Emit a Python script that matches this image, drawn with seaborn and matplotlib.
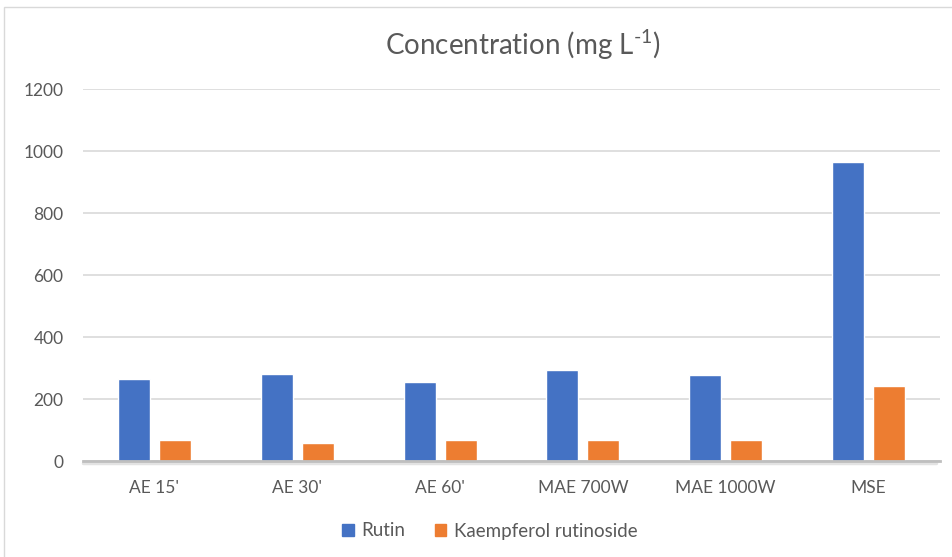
import matplotlib
matplotlib.use("Agg")
import matplotlib.pyplot as plt
import matplotlib.patches as mpatches
import matplotlib.lines as mlines
import seaborn as sns
import pandas as pd

# Extraction methods and measured concentrations (mg/L)
methods = ["AE 15'", "AE 30'", "AE 60'", "MAE 700W", "MAE 1000W", "MSE"]
rutin = [263, 282, 256, 292, 279, 964]
kaempferol_rutinoside = [67, 59, 69, 67, 67, 241]
series_names = ["Rutin", "Kaempferol rutinoside"]
y_ticks = [0, 200, 400, 600, 800, 1000, 1200]

df = pd.DataFrame({
    "Method": methods * 2,
    "Compound": [series_names[0]] * len(methods) + [series_names[1]] * len(methods),
    "Concentration": rutin + kaempferol_rutinoside,
})

sns.set_theme(style="white")
plt.rcParams["font.family"] = ["Lato", "DejaVu Sans"]
plt.rcParams["mathtext.fontset"] = "custom"
plt.rcParams["mathtext.rm"] = "Lato"
plt.rcParams["mathtext.it"] = "Lato:italic"

text_color = "#595959"
palette = {series_names[0]: "#4472C4", series_names[1]: "#ED7D31"}

fig = plt.figure(figsize=(9.53, 5.57), dpi=100)
ax = fig.add_axes([83 / 953, 1 - 461 / 557, 857 / 953, 372 / 557])

sns.barplot(data=df, x="Method", y="Concentration", hue="Compound",
            palette=palette, width=0.575, gap=0.22, ax=ax,
            saturation=1, legend=False, errorbar=None)

ax.set_ylim(0, 1200)
ax.set_yticks(y_ticks)
ax.set_yticklabels([str(v) for v in y_ticks])
ax.set_xlim(-0.5, len(methods) - 0.5)
ax.yaxis.grid(True, color="#D9D9D9", linewidth=1.2)
ax.set_axisbelow(True)
for side in ["top", "right", "left"]:
    ax.spines[side].set_visible(False)
ax.spines["bottom"].set_color("#BFBFBF")
ax.spines["bottom"].set_linewidth(2.0)
ax.spines["bottom"].set_zorder(3)
# soft shadow under the category axis
ax.add_line(mlines.Line2D([0, 0.995], [-0.006, -0.006], transform=ax.transAxes,
                          color="#E3E3E3", linewidth=2.5, clip_on=False, zorder=2))
ax.set_xlabel("")
ax.set_ylabel("")
ax.tick_params(axis="both", length=0, colors=text_color, labelsize=12.5)
ax.tick_params(axis="y", pad=14)
ax.tick_params(axis="x", pad=14)

fig.text(523 / 953, 1 - 45 / 557, r"Concentration (mg L$^{\text{-}1}$)", ha="center",
         va="center", fontsize=20, color=text_color)

handles = [mpatches.Patch(color=palette[n], label=n) for n in series_names]
fig.legend(handles=handles, loc="center", bbox_to_anchor=(490 / 953, 1 - 531 / 557),
           ncol=2, frameon=False, fontsize=13.5, labelcolor=text_color,
           handlelength=0.6, handleheight=0.6, handletextpad=0.4, columnspacing=1.6)

# Chart area border
fig.patches.append(mpatches.Rectangle((4 / 953, -0.01), 1.0, 1 - 7 / 557 + 0.01,
                                      transform=fig.transFigure, fill=False,
                                      edgecolor="#D9D9D9", linewidth=1.0))

fig.savefig("out.png", dpi=100)
